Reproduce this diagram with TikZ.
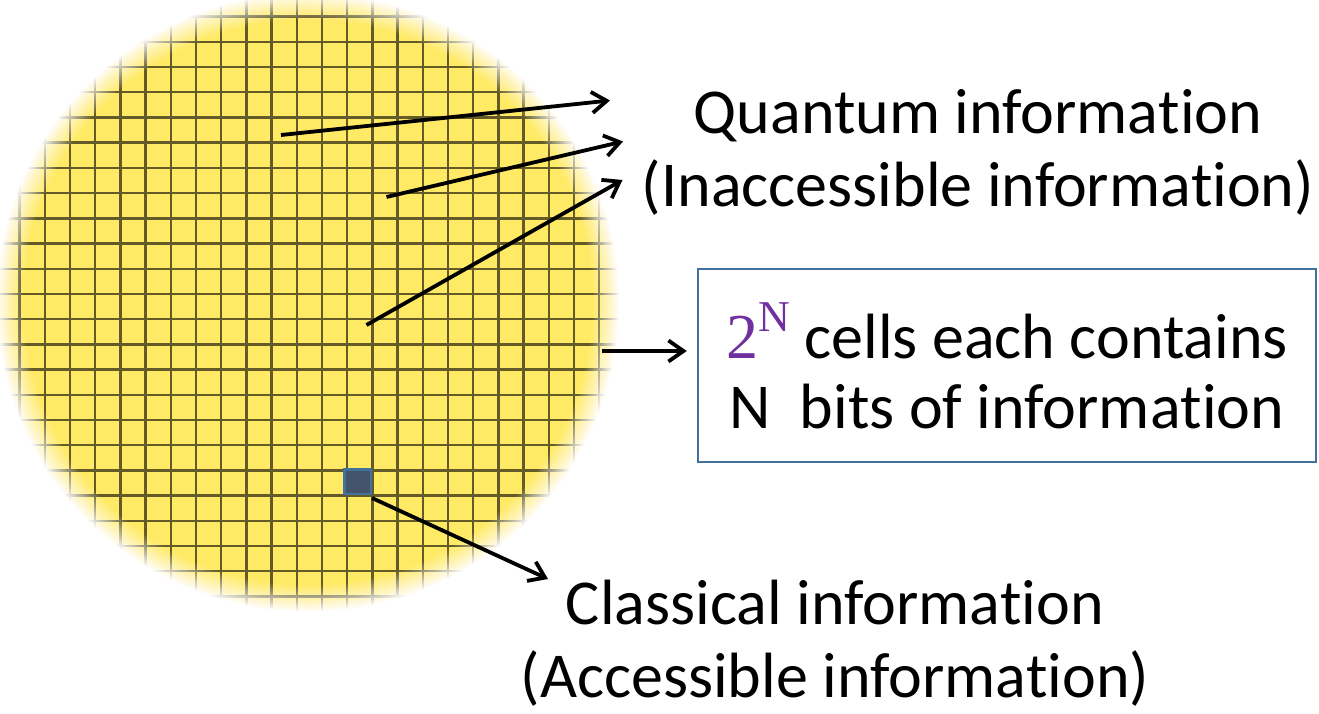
\documentclass[tikz,border=0pt]{standalone}
\usepackage{fontspec}
\setmainfont{Carlito}[RawFeature={-liga}]
\newfontfamily\numserif{Liberation Serif}
\newcommand\infoword{informa\kern0pt tion}
\usetikzlibrary{arrows.meta}
\definecolor{diskyellow}{RGB}{255,234,102}
\definecolor{gridc}{RGB}{100,90,40}
\definecolor{boxblue}{RGB}{65,113,156}
\definecolor{cellfill}{RGB}{68,84,106}
\definecolor{npurple}{RGB}{112,48,160}
\begin{document}
\begin{tikzpicture}[x=1pt,y=-1pt,
  lbl/.style={font=\fontsize{64}{73}\selectfont, align=center, inner sep=0pt},
  arr/.style={line width=3.8pt, -{Straight Barb[length=15pt,width=21pt]}},
  gline/.style={gridc, line width=2.4pt},
  cellsq/.style={draw=boxblue, fill=cellfill, line width=2.5pt, minimum width=26.5pt, minimum height=24.5pt, inner sep=0pt},
  infobox/.style={draw=boxblue, line width=2.5pt, minimum width=618pt, minimum height=193pt, align=center, inner sep=0pt, font=\fontsize{64}{70}\selectfont}]
\useasboundingbox (0,0) rectangle (1319,714);
\def\cx{308}\def\cy{302.5}
% yellow disk with grid
\fill[diskyellow] (\cx,\cy) ellipse [x radius=311pt, y radius=309pt];
\begin{scope}
  \clip (\cx,\cy) ellipse [x radius=311pt, y radius=309pt];
  \foreach \i in {0,...,25} {
    \draw[gline] ({19.6+25.2*\i},-10) -- ({19.6+25.2*\i},625);
    \draw[gline] (-10,{16.7+25.2*\i}) -- (630,{16.7+25.2*\i});
  }
\end{scope}
% fuzzy edge
\foreach \k in {1,...,18} {
  \pgfmathsetmacro\al{1/(19-\k)}
  \pgfmathsetmacro\rr{-13+26*(\k-1)/17}
  \fill[white, fill opacity=\al, even odd rule]
    (\cx,\cy) ellipse [x radius=340pt, y radius=340pt]
    (\cx,\cy) ellipse [x radius={(298+\rr)*1pt}, y radius={(296+\rr)*1pt}];
}
% classical cell
\node[cellsq] (cls) at (357.5,481.5) {};
% labels
\node[lbl] (qtxt) at (978,152) {Quantum \infoword\\(Inaccessible \infoword)};
\node[lbl] (ctxt) at (835,643) {Classical \infoword\\(Accessible \infoword)};
\node[infobox] (bx) at (1007,365.5) {{\numserif\color{npurple}2\raisebox{0.42em}{\fontsize{44}{44}\selectfont N}} cells each contains\\N~ bits of \infoword};
% arrows
\coordinate (a1s) at (281,135);
\coordinate (a1e) at (610,100.5);
\coordinate (a2s) at (386.5,197);
\coordinate (a2e) at (623,141.5);
\coordinate (a3s) at (366.5,325);
\coordinate (a3e) at (622.5,180);
\coordinate (a4s) at (601.5,351);
\coordinate (a5e) at (548,579);
\draw[arr] (a1s) -- (a1e);
\draw[arr] (a2s) -- (a2e);
\draw[arr] (a3s) -- (a3e);
\draw[arr] (a4s) -- ([xshift=-10pt]bx.west |- a4s);
\draw[arr] ([yshift=-3pt]cls.south east) -- (a5e);
\end{tikzpicture}
\end{document}
